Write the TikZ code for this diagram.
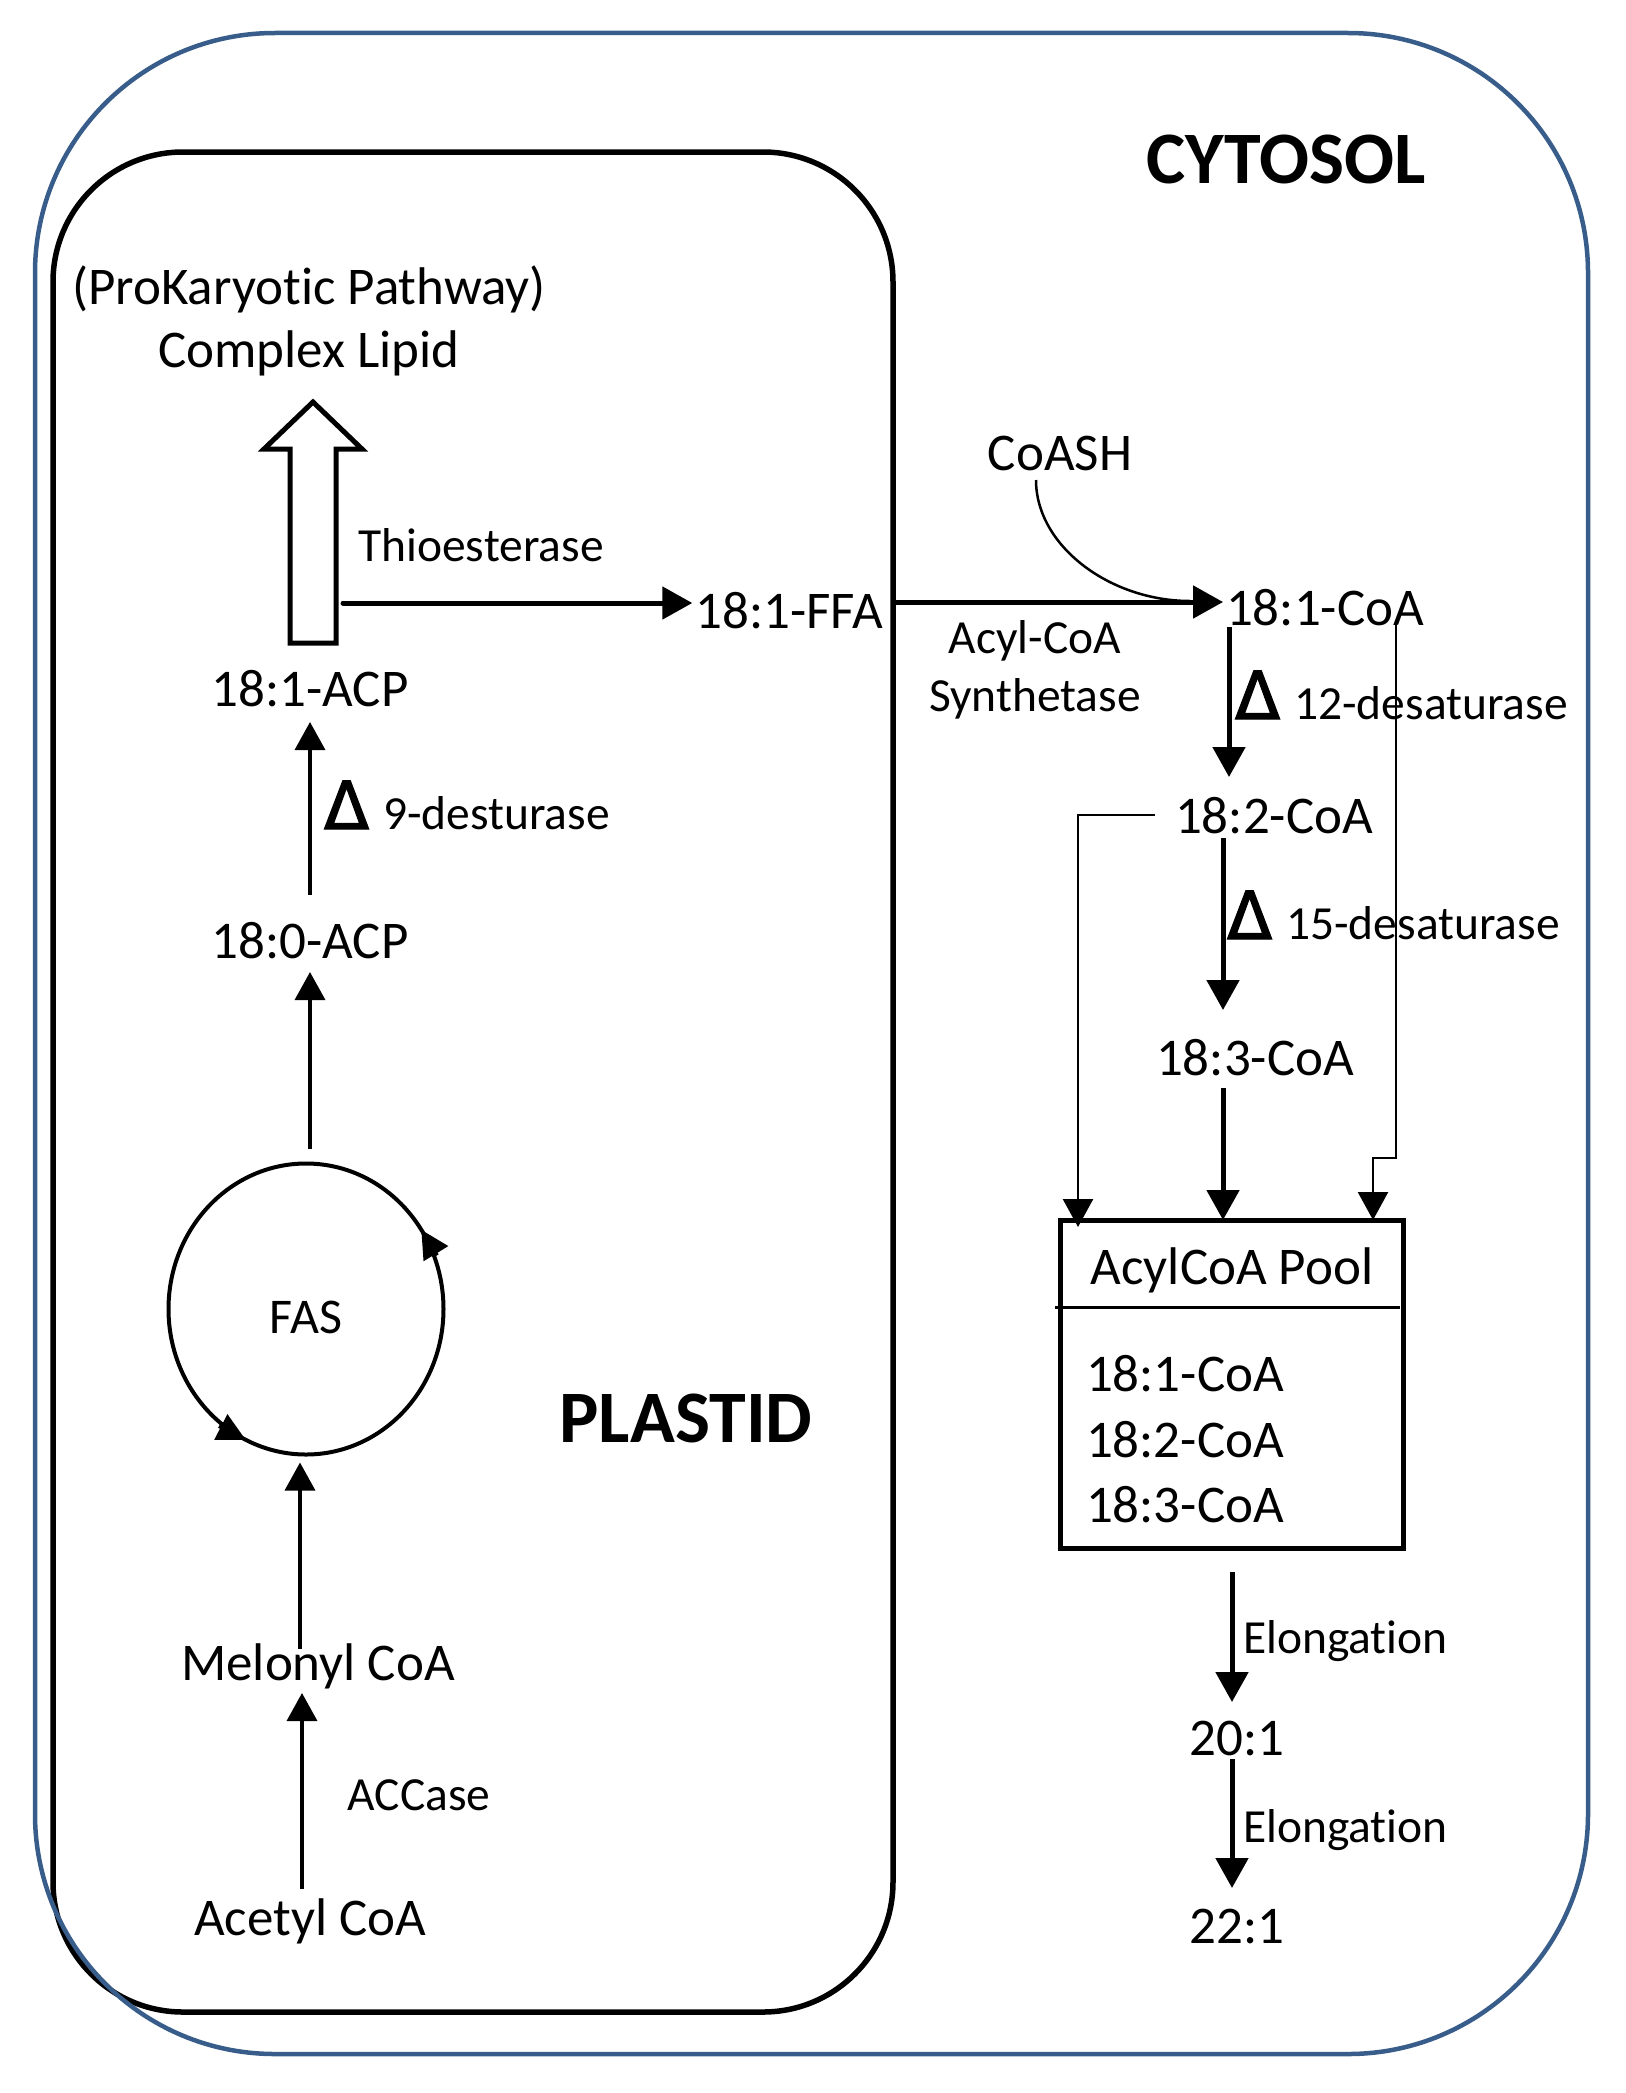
\documentclass[tikz,border=0pt]{standalone}
\usepackage{fontspec}
\setmainfont{Carlito}[Ligatures={NoCommon}]
\newfontfamily\djv{DejaVu Sans}[FakeBold=2]
\usetikzlibrary{arrows.meta,calc,shapes.geometric}
\definecolor{cytblue}{HTML}{385D8A}
\newcommand{\dlt}{{\djv\fontsize{66}{66}\selectfont Δ}}
\begin{document}
\begin{tikzpicture}[x=1pt,y=-1pt,
  lbl/.style={inner sep=0pt, outer sep=0pt, anchor=base, font=\fontsize{53}{60}\selectfont},
  sml/.style={inner sep=0pt, outer sep=0pt, anchor=base, font=\fontsize{47.5}{58}\selectfont},
  ttl/.style={inner sep=0pt, outer sep=0pt, anchor=base, font=\fontsize{74}{80}\selectfont\bfseries},
  thickarr/.style={line width=5pt, -{Triangle[length=30pt,width=32pt]}},
  thinarr/.style={line width=3.5pt, -{Triangle[length=28pt,width=30pt]}},
  byarr/.style={line width=2.5pt, -{Triangle[length=28pt,width=30pt]}},
  cycarr/.style={line width=4pt, -{Triangle[length=28pt,width=28pt]}},
]
\useasboundingbox (0,0) rectangle (1625,2093);

% compartments
\node[draw, line width=5.5pt, rounded corners=130pt, minimum width=840pt, minimum height=1860pt, inner sep=0pt, outer sep=0pt] (plastid) at (473,1082) {};
\node[draw=cytblue, line width=4.5pt, rounded corners=240pt, minimum width=1553pt, minimum height=2021pt, inner sep=0pt, outer sep=0pt] (cytosol) at (811.5,1043.5) {};

% titles
\node[ttl] (cyttitle) at (1286,183) {CYTOSOL};
\node[ttl] (plastitle) at (686,1442) {PLASTID};

% plastid texts
\node[lbl] (pk) at (309,304) {(ProKaryotic Pathway)};
\node[lbl] (cl) at (309,367) {Complex Lipid};
\node[sml] (thio) at (481,561) {Thioesterase};
\node[lbl] (ffa) at (789,628) {18:1-FFA};
\node[lbl] (acp1) at (310,706) {18:1-ACP};
\node[sml, anchor=base west] (d9) at (324,829) {\dlt\hspace{14pt}9-desturase};
\node[lbl] (acp0) at (310,958) {18:0-ACP};
\node[ellipse, minimum width=275pt, minimum height=291pt, inner sep=0pt, outer sep=0pt] (cyc) at (306,1309) {};
\node[sml, font=\fontsize{50}{58}\selectfont] (fas) at (306,1333) {FAS};
\node[lbl] (melonyl) at (318,1680) {Melonyl CoA};
\node[sml] (accase) at (419,1810) {ACCase};
\node[lbl] (acetyl) at (310,1935) {Acetyl CoA};

% cytosol texts
\node[lbl] (coash) at (1060,470) {CoASH};
\node[lbl] (coa1) at (1325,625) {18:1-CoA};
\node[sml] (acyl) at (1035,653) {Acyl-CoA};
\node[sml] (synth) at (1035,711) {Synthetase};
\node[sml, anchor=base west] (d12) at (1235,719) {\dlt\hspace{14pt}12-desaturase};
\node[lbl] (coa2) at (1274,833) {18:2-CoA};
\node[sml, anchor=base west] (d15) at (1227,939) {\dlt\hspace{14pt}15-desaturase};
\node[lbl] (coa3) at (1255,1075) {18:3-CoA};

% pool
\node[draw, line width=5pt, minimum width=343pt, minimum height=328pt, inner sep=0pt, outer sep=0pt] (pool) at (1231.5,1384) {};
\draw[line width=3pt] ($(pool.north west)+(-5,87)$) -- ($(pool.north east)+(-3,87)$);
\node[lbl] (poolhead) at (1232,1284) {AcylCoA Pool};
\node[lbl, anchor=base west] (p1) at (1086,1391) {18:1-CoA};
\node[lbl, anchor=base west] (p2) at (1086,1457) {18:2-CoA};
\node[lbl, anchor=base west] (p3) at (1086,1522) {18:3-CoA};

\node[sml, anchor=base west] (el1) at (1243,1653) {Elongation};
\node[lbl] (n201) at (1237,1755) {20:1};
\node[sml, anchor=base west] (el2) at (1243,1842) {Elongation};
\node[lbl] (n221) at (1237,1943) {22:1};

% plastid connectors
\draw[line width=5pt, line join=miter] (290,643) -- (290,449) -- (264,449) -- (313,402) -- (362,449) -- (336,449) -- (336,643) -- cycle;
\coordinate (bk) at (343,603);
\draw[thickarr, line cap=round, shorten >=3pt] (bk) -- (bk -| ffa.west);
\draw[thinarr] ($(acp0.base)+(0,-63)$) -- ($(acp1.base)+(0,16)$);
\draw[thinarr] ($(cyc.north)+(4,-15)$) -- ($(acp0.base)+(0,14)$);
\draw[thinarr] ($(melonyl.base)+(-18,-31)$) -- ($(cyc.south)+(-6,8)$);
\draw[thinarr] ($(acetyl.base)+(-8,-46)$) -- ($(melonyl.base)+(-16,13)$);
% FAS cycle
\draw[line width=4pt] (cyc.east) arc[start angle=0, end angle=360, x radius=137.5pt, y radius=145.5pt];
\draw[cycarr] ($(cyc.center)+(131,-53.6)$) -- ($(cyc.center)+(115.3,-79.2)$);
\draw[cycarr] ($(cyc.center)+(-87,117.1)$) -- ($(cyc.center)+(-60.3,130.8)$);

% cytosol connectors
\coordinate (pe) at (893,602);
\draw[thickarr, shorten >=3pt] (pe) -- (pe -| coa1.west);
\draw[line width=2.5pt] ($(coash.base)+(-24,10)$) .. controls +(0,66) and +(-80,0) .. ($(coa1.base)+(-135,-24)$);
\draw[thickarr] ($(coa1.base)+(-96,2)$) -- ($(coa2.base)+(-45,-56)$);
\draw[thickarr] ($(coa2.base)+(-51,5)$) -- ($(coa3.base)+(-32,-65)$);
\coordinate (c3s) at ($(coa3.base)+(-32,13)$);
\draw[thickarr] (c3s) -- (c3s |- pool.north);
\coordinate (c2w) at ($(coa2.base)+(-119,-18)$);
\draw[byarr] (c2w) -| ($(pool.north west)+(18,7)$);
\coordinate (c1r) at ($(coa1.base)+(71,-5)$);
\coordinate (pr) at ($(pool.north east)+(-30,0)$);
\draw[byarr] (c1r) |- ($(pr)+(0,-62)$) -- (pr);
\draw[thickarr] ($(pool.south)+(0.5,24)$) -- ($(n201.base)+(-5,-53)$);
\draw[thickarr] ($(n201.base)+(-5,4)$) -- ($(n221.base)+(-5,-55)$);
\end{tikzpicture}
\end{document}
